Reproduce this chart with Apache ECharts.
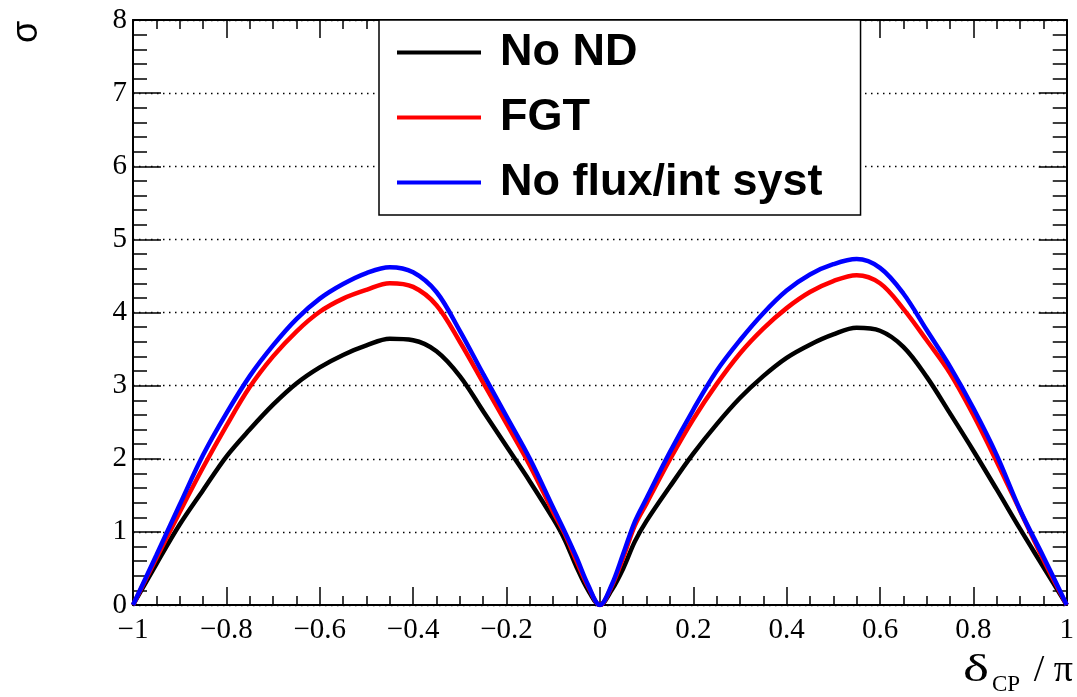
<!DOCTYPE html>
<html>
<head>
<meta charset="utf-8">
<script src="https://cdn.jsdelivr.net/npm/echarts@6/dist/echarts.min.js"></script>
<style>
html,body{margin:0;padding:0;background:#fff;}
#c{width:1077px;height:697px;}
</style>
</head>
<body>
<div id="c"></div>
<script>
var xs = [-1, -0.95, -0.9, -0.85, -0.8, -0.75, -0.7, -0.65, -0.6, -0.55, -0.5, -0.45, -0.4, -0.35, -0.3, -0.25, -0.2, -0.15, -0.1, -0.075, -0.05, -0.025, 0, 0.025, 0.05, 0.075, 0.1, 0.15, 0.2, 0.25, 0.3, 0.35, 0.4, 0.45, 0.5, 0.55, 0.6, 0.65, 0.7, 0.75, 0.8, 0.85, 0.9, 0.95, 1];
var noND = [0, 0.56, 1.10, 1.57, 2.03, 2.40, 2.74, 3.03, 3.25, 3.42, 3.55, 3.64, 3.62, 3.47, 3.13, 2.65, 2.17, 1.69, 1.18, 0.89, 0.52, 0.20, 0, 0.20, 0.50, 0.87, 1.15, 1.62, 2.07, 2.47, 2.83, 3.13, 3.38, 3.56, 3.70, 3.79, 3.75, 3.53, 3.12, 2.62, 2.11, 1.58, 1.04, 0.52, 0];
var fgt = [0, 0.64, 1.27, 1.88, 2.45, 2.98, 3.40, 3.74, 4.01, 4.19, 4.31, 4.40, 4.35, 4.10, 3.60, 3.04, 2.48, 1.91, 1.27, 0.97, 0.60, 0.25, 0, 0.25, 0.65, 1.09, 1.39, 1.99, 2.54, 3.02, 3.44, 3.78, 4.06, 4.28, 4.43, 4.51, 4.40, 4.05, 3.62, 3.17, 2.60, 1.96, 1.29, 0.62, 0];
var noSyst = [0, 0.68, 1.37, 2.05, 2.62, 3.13, 3.55, 3.91, 4.19, 4.39, 4.54, 4.62, 4.55, 4.28, 3.75, 3.16, 2.58, 2.00, 1.33, 1.00, 0.65, 0.27, 0, 0.27, 0.70, 1.14, 1.46, 2.09, 2.67, 3.20, 3.62, 3.99, 4.30, 4.52, 4.66, 4.73, 4.61, 4.26, 3.76, 3.26, 2.69, 2.05, 1.30, 0.66, 0];
var seriesNames = ['No ND', 'FGT', 'No flux/int syst'];
var seriesColors = ['#000000', '#ff0000', '#0000ff'];
var seriesValues = [noND, fgt, noSyst];

function pairs(vals){ return xs.map(function(x,i){ return [x, vals[i]]; }); }
function fmt(v){ var s = String(Math.round(v*10)/10); return s.replace('-', '\u2212'); }

var serif = 'Liberation Serif';
var chart = echarts.init(document.getElementById('c'), null, {renderer:'canvas'});
var tickLine = {color:'#000', width:1.5};
chart.setOption({
  animation:false,
  backgroundColor:'#fff',
  grid:{left:133, right:5, top:20, bottom:92, containLabel:false},
  xAxis:[{
    type:'value', min:-1, max:1, interval:0.2, position:'bottom',
    axisLine:{show:true, onZero:false, lineStyle:{color:'#000', width:2}},
    axisTick:{show:true, inside:true, length:18, lineStyle:tickLine},
    minorTick:{show:true, splitNumber:4, length:9, lineStyle:tickLine},
    splitLine:{show:false},
    axisLabel:{show:true, margin:11, color:'#000', fontFamily:serif, fontSize:29, formatter:fmt}
  },{
    type:'value', min:-1, max:1, interval:0.2, position:'top',
    axisLine:{show:true, onZero:false, lineStyle:{color:'#000', width:2}},
    axisTick:{show:true, inside:true, length:18, lineStyle:tickLine},
    minorTick:{show:true, splitNumber:4, length:9, lineStyle:tickLine},
    splitLine:{show:false}, axisLabel:{show:false}
  }],
  yAxis:[{
    type:'value', min:0, max:8, interval:1, position:'left',
    axisLine:{show:true, onZero:false, lineStyle:{color:'#000', width:2}},
    axisTick:{show:true, inside:true, length:28, lineStyle:tickLine},
    minorTick:{show:true, splitNumber:5, length:14, lineStyle:tickLine},
    splitLine:{show:true, lineStyle:{color:'#000', width:1.3, type:[1.5,4.5]}},
    axisLabel:{show:true, margin:6, color:'#000', fontFamily:serif, fontSize:29}
  },{
    type:'value', min:0, max:8, interval:1, position:'right',
    axisLine:{show:true, onZero:false, lineStyle:{color:'#000', width:2}},
    axisTick:{show:true, inside:true, length:28, lineStyle:tickLine},
    minorTick:{show:true, splitNumber:5, length:14, lineStyle:tickLine},
    splitLine:{show:false}, axisLabel:{show:false}
  }],
  legend:{
    left:379, top:20, orient:'vertical',
    backgroundColor:'#fff', borderColor:'#000', borderWidth:1.5, borderRadius:0,
    padding:[0, 38, 0, 18], itemGap:0,
    icon:'rect', itemWidth:84, itemHeight:4,
    textStyle:{fontFamily:'Liberation Sans', fontWeight:'bold', fontSize:45, color:'#000', lineHeight:65, padding:[0,0,0,14]},
    data:seriesNames
  },
  series: seriesNames.map(function(n,i){
    return {name:n, type:'line', data:pairs(seriesValues[i]), showSymbol:false, symbol:'none',
      smooth:0.35, color:seriesColors[i], lineStyle:{color:seriesColors[i], width:4.5}, z:2+i};
  }),
  graphic:[
    {type:'text', x:27, y:32, rotation:Math.PI/2, style:{text:'\u03c3', fontFamily:'Liberation Sans', fontSize:36, fill:'#000', align:'center', verticalAlign:'middle'}},
    {type:'text', x:963, y:671, scaleX:1.45, style:{text:'\u03b4', fontFamily:serif, fontSize:38, fill:'#000', align:'left', verticalAlign:'middle'}},
    {type:'text', x:992, y:685, style:{text:'CP', fontFamily:serif, fontSize:23, fill:'#000', align:'left', verticalAlign:'middle'}},
    {type:'text', x:1073, y:671, style:{text:'/ \u03c0', fontFamily:serif, fontSize:38, fill:'#000', align:'right', verticalAlign:'middle'}}
  ]
});
</script>
</body>
</html>
